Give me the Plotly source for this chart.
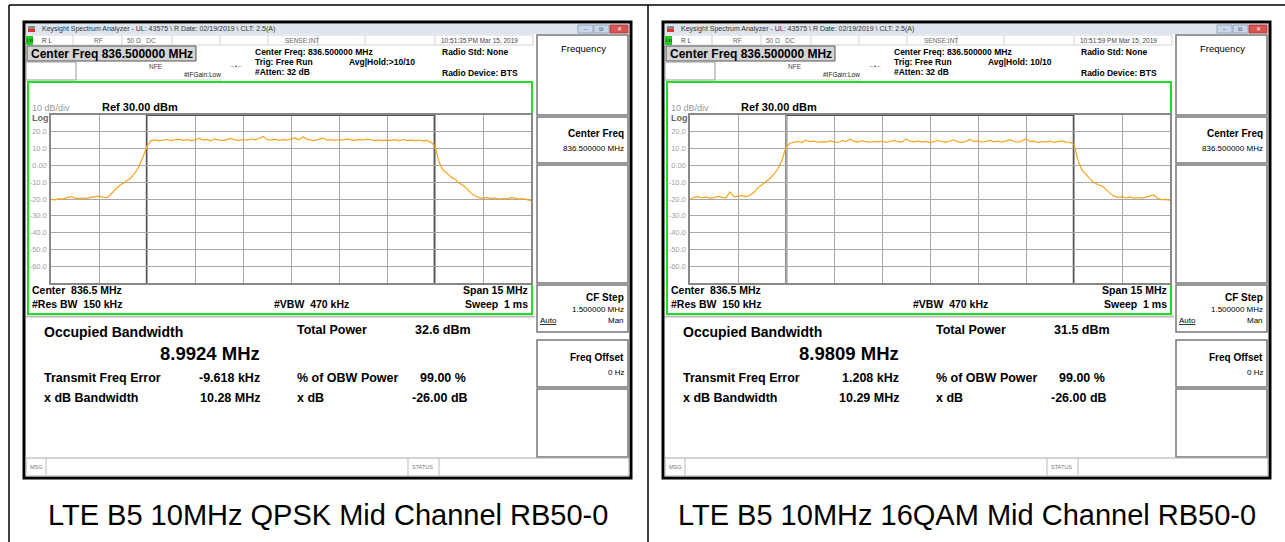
import plotly.graph_objects as go

W, H = 1285, 542

# ---------------- data ----------------
freq_mhz = [round(829.0 + 0.125 * i, 3) for i in range(121)]

qpsk_dbm = [
    -20.2, -20.5, -19.8, -20.1, -19.2, -18.6, -19.5, -19.8, -19.4, -19.6, -19.0, -18.8, -18.3,
    -18.9, -19.2, -17.0, -14.5, -12.3, -10.8, -9.2, -7.4, -4.5, -0.5, 5.0, 11.5, 14.8,
    15.2, 14.6, 15.0, 15.4, 14.8, 15.1, 15.6, 14.9, 15.3, 14.7,
    15.0, 16.2, 15.1, 15.5, 14.6, 15.8, 15.0, 14.8, 15.3, 16.1,
    15.2, 14.9, 15.4, 15.0, 15.7, 15.2, 16.0, 17.2, 15.4, 15.1,
    15.6, 14.9, 15.3, 15.0, 15.8, 16.4, 15.2, 17.0, 15.5, 15.1,
    14.8, 15.6, 16.2, 15.0, 15.3, 14.9, 15.4, 15.1, 15.8, 15.2,
    14.9, 15.5, 15.0, 15.7, 15.1, 14.8, 15.2, 14.7, 15.0, 14.9,
    15.3, 14.6, 15.4, 14.8, 15.0, 14.7, 15.1, 14.6, 14.9, 13.8,
    11.5, 2.0, -2.8, -4.5, -7.0, -8.2, -10.5, -11.8, -14.0, -16.5, -18.2, -19.2,
    -19.6, -19.0, -19.8, -19.4, -20.0, -19.7, -19.9, -19.2, -19.5, -20.1, -19.8, -20.3, -21.0,
]

qam16_dbm = [
    -20.3, -19.0, -18.6, -19.4, -18.8, -19.6, -19.2, -18.5, -19.0, -19.3, -15.8, -18.6, -18.4,
    -18.0, -18.6, -17.8, -16.0, -13.2, -11.5, -9.6, -7.8, -5.2, -2.0, 3.0, 11.0, 13.2,
    13.8, 14.3, 13.6, 15.0, 14.1, 14.5, 13.7, 14.2, 13.9, 14.6,
    14.0, 13.5, 14.8, 14.2, 15.6, 14.4, 13.9, 14.7, 14.1, 13.8,
    14.3, 14.0, 14.5, 13.7, 14.2, 14.9, 14.1, 13.8, 15.8, 14.4,
    14.0, 14.6, 13.9, 14.3, 13.6, 14.1, 14.8, 14.2, 13.9, 14.5,
    15.2, 14.0, 13.7, 14.4, 15.5, 14.1, 14.6, 13.8, 14.3, 14.9,
    14.0, 14.5, 13.9, 14.7, 15.3, 14.2, 13.8, 14.6, 15.8, 14.1,
    14.4, 13.6, 14.2, 13.9, 14.5, 13.7, 14.1, 14.6, 13.9, 13.8,
    12.5, 3.0, -2.8, -5.5, -8.0, -10.2, -11.5, -12.2, -14.6, -16.5, -18.3, -19.0,
    -18.6, -19.4, -18.8, -19.6, -19.1, -19.5, -18.9, -18.2, -17.6, -19.8, -20.4, -20.2, -20.8,
]
assert len(qpsk_dbm) == len(freq_mhz) == len(qam16_dbm)

traces_dbm = [qpsk_dbm, qam16_dbm]
captions = ["LTE B5 10MHz QPSK Mid Channel RB50-0", "LTE B5 10MHz 16QAM Mid Channel RB50-0"]
timestamps = ["10:51:35 PM Mar 15, 2019", "10:51:59 PM Mar 15, 2019"]
avg_hold = ["Avg|Hold:>10/10", "Avg|Hold: 10/10"]
obw_mhz = [8.9924, 8.9809]
total_power_dbm = [32.6, 31.5]
freq_error_khz = [-9.618, 1.208]
xdb_bw_mhz = [10.28, 10.29]
center_mhz = 836.5
span_mhz = 15.0
ref_dbm = 30.0
y_ticks = [20, 10, 0, -10, -20, -30, -40, -50, -60]
y_ticktext = ["20.0", "10.0", "0.00", "-10.0", "-20.0", "-30.0", "-40.0", "-50.0", "-60.0"]

# ---------------- helpers ----------------
FONT = "Arial, Liberation Sans, sans-serif"
shapes, annos = [], []


def X(px):
    return px / W


def Y(py):
    return 1 - py / H


def rect(x0, y0, x1, y1, fill="rgba(0,0,0,0)", color="rgba(0,0,0,0)", width=0):
    shapes.append(dict(type="rect", xref="paper", yref="paper", x0=X(x0), x1=X(x1),
                       y0=Y(y1), y1=Y(y0), fillcolor=fill,
                       line=dict(color=color, width=width), layer="below"))


def seg(x0, y0, x1, y1, color="#000", width=1, layer="below"):
    shapes.append(dict(type="line", xref="paper", yref="paper", x0=X(x0), x1=X(x1),
                       y0=Y(y0), y1=Y(y1), line=dict(color=color, width=width), layer=layer))


def txt(x, y, s, size=9, color="#000", bold=False, anchor="left"):
    if bold:
        s = "<b>" + s + "</b>"
    annos.append(dict(xref="paper", yref="paper", x=X(x), y=Y(y), text=s, showarrow=False,
                      xanchor=anchor, yanchor="middle", font=dict(family=FONT, size=size, color=color)))


fig = go.Figure()

# outer table lines
seg(9, 5, 1285, 5, "#000", 1.5)
seg(9, 5, 9, 542, "#000", 1.5)
seg(648, 5, 648, 542, "#000", 1.5)

for k in range(2):
    d = 639 * k
    # screenshot frame
    rect(24 + d, 22, 631 + d, 478, fill="#ffffff", color="#000", width=3)
    # title bar
    rect(26 + d, 24, 629 + d, 34, fill="#dde4ee")
    rect(28 + d, 26, 35 + d, 29, fill="#888")
    rect(28 + d, 29, 35 + d, 32, fill="#d33")
    txt(40 + d, 29.5, "Keysight Spectrum Analyzer - UL: 43575 \\ R Date: 02/19/2019 \\ CLT: 2.5(A)", 7, "#333")
    rect(578 + d, 25, 593 + d, 33, fill="#c8d7ea", color="#8a9bb0", width=0.8)
    rect(594 + d, 25, 609 + d, 33, fill="#c8d7ea", color="#8a9bb0", width=0.8)
    rect(610 + d, 25, 628 + d, 33, fill="#d9534f", color="#a33", width=0.8)
    txt(585.5 + d, 29, "–", 6, "#456", anchor="center")
    txt(601.5 + d, 29, "⧉", 6, "#456", anchor="center")
    txt(619 + d, 29, "✕", 6, "#fff", anchor="center")
    # status row
    rect(26 + d, 35, 533 + d, 45, fill="#ffffff", color="#c8c8c8", width=0.8)
    rect(26 + d, 36, 33 + d, 45, fill="#22cc22")
    txt(29.5 + d, 40.5, "LXI", 4, "#000", anchor="center")
    for sx in [73, 122, 172, 220, 268, 318, 365, 435]:
        seg(sx + d, 35, sx + d, 45, "#c8c8c8", 0.8)
    txt(40 + d, 40.5, "R L", 6.5, "#444")
    txt(92 + d, 40.5, "RF", 6.5, "#666")
    txt(125 + d, 40.5, "50 Ω   DC", 6.5, "#666")
    txt(283 + d, 40.5, "SENSE:INT", 6.5, "#666")
    txt(439 + d, 40.5, timestamps[k], 6.5, "#444")
    # center freq box
    rect(27 + d, 46, 196 + d, 61, fill="#d4d4d4", color="#555", width=1)
    txt(29 + d, 54, "Center Freq %.6f MHz" % center_mhz, 12, "#000", bold=True)
    rect(26 + d, 62, 76 + d, 80, fill="#fff", color="#999", width=1)
    seg(76 + d, 80, 222 + d, 80, "#cfcfcf", 1)
    txt(147 + d, 66, "NFE", 6.5, "#444")
    txt(182 + d, 74.5, "#IFGain:Low", 6.5, "#222")
    txt(236 + d, 66, "→•←", 6, "#333", anchor="center")
    txt(253 + d, 52, "Center Freq: %.6f MHz" % center_mhz, 8.5, "#000", bold=True)
    txt(253 + d, 62, "Trig: Free Run", 8.5, "#000", bold=True)
    txt(253 + d, 72, "#Atten: 32 dB", 8.5, "#000", bold=True)
    txt(347 + d, 62, avg_hold[k], 8.5, "#000", bold=True)
    txt(440 + d, 52, "Radio Std: None", 8.5, "#000", bold=True)
    txt(440 + d, 73, "Radio Device: BTS", 8.5, "#000", bold=True)
    # softkey panel
    rect(537 + d, 35, 628 + d, 115, fill="#fff", color="#777", width=1.5)
    txt(583 + d, 48, "Frequency", 9.5, "#000", anchor="center")
    rect(537 + d, 117, 628 + d, 163, fill="#fff", color="#777", width=1.5)
    txt(626 + d, 133, "Center Freq", 10, "#000", bold=True, anchor="right")
    txt(626 + d, 148, "%.6f MHz" % center_mhz, 8, "#000", anchor="right")
    rect(537 + d, 165, 628 + d, 283, fill="#fff", color="#777", width=1.5)
    rect(537 + d, 285, 628 + d, 332, fill="#fff", color="#777", width=1.5)
    txt(626 + d, 297, "CF Step", 10, "#000", bold=True, anchor="right")
    txt(626 + d, 309, "%.6f MHz" % (span_mhz / 10), 8, "#000", anchor="right")
    txt(538 + d, 320, "<u>Auto</u>", 8, "#000")
    txt(626 + d, 320, "Man", 8, "#000", anchor="right")
    rect(537 + d, 340, 628 + d, 387, fill="#fff", color="#777", width=1.5)
    txt(626 + d, 357, "Freq Offset", 10, "#000", bold=True, anchor="right")
    txt(626 + d, 372, "0 Hz", 8, "#000", anchor="right")
    rect(537 + d, 389, 628 + d, 457, fill="#fff", color="#777", width=1.5)
    # green graticule box
    rect(28 + d, 82, 532 + d, 314, fill="#fff", color="#22dd22", width=2)
    txt(30 + d, 108, "10 dB/div", 9, "#999")
    txt(100 + d, 107, "Ref %.2f dBm" % ref_dbm, 11, "#000", bold=True)
    txt(30 + d, 118.5, "Log", 9, "#666", bold=True)
    txt(30 + d, 290, "Center  %.1f MHz" % center_mhz, 10.5, "#000", bold=True)
    txt(530 + d, 290, "Span %g MHz" % span_mhz, 10.5, "#000", bold=True, anchor="right")
    txt(30 + d, 304, "#Res BW  150 kHz", 10.5, "#000", bold=True)
    txt(272 + d, 304, "#VBW  470 kHz", 10.5, "#000", bold=True)
    txt(530 + d, 304, "Sweep  1 ms", 10.5, "#000", bold=True, anchor="right")
    # measurement area
    seg(26 + d, 316.5, 535 + d, 316.5, "#bdbdbd", 2)
    txt(42 + d, 332, "Occupied Bandwidth", 14, "#000", bold=True)
    txt(158 + d, 353, "%.4f MHz" % obw_mhz[k], 18.5, "#000", bold=True)
    txt(295 + d, 330, "Total Power", 12.5, "#000", bold=True)
    txt(413 + d, 330, "%.1f dBm" % total_power_dbm[k], 12.5, "#000", bold=True)
    txt(42 + d, 378, "Transmit Freq Error", 12.5, "#000", bold=True)
    txt(262 + d, 378, "%.3f kHz" % freq_error_khz[k], 12.5, "#000", bold=True, anchor="right")
    txt(295 + d, 378, "% of OBW Power", 12.5, "#000", bold=True)
    txt(418 + d, 378, "99.00 %", 12.5, "#000", bold=True)
    txt(42 + d, 398, "x dB Bandwidth", 12.5, "#000", bold=True)
    txt(262 + d, 398, "%.2f MHz" % xdb_bw_mhz[k], 12.5, "#000", bold=True, anchor="right")
    txt(295 + d, 398, "x dB", 12.5, "#000", bold=True)
    txt(410 + d, 398, "-26.00 dB", 12.5, "#000", bold=True)
    # msg bar
    rect(26 + d, 458, 629 + d, 476, fill="#fff", color="#aaa", width=1)
    seg(46 + d, 458, 46 + d, 476, "#bbb", 1)
    seg(408 + d, 458, 408 + d, 476, "#bbb", 1)
    seg(439 + d, 458, 439 + d, 476, "#bbb", 1)
    txt(28 + d, 467, "MSG", 5.5, "#777")
    txt(410 + d, 467, "STATUS", 5.5, "#777")
    # caption
    txt(328 + d, 515, captions[k], 29, "#000", anchor="center")

    # ---------------- plot ----------------
    xa = "x" if k == 0 else "x2"
    ya = "y" if k == 0 else "y2"
    fig.add_trace(go.Scatter(x=freq_mhz, y=traces_dbm[k], mode="lines",
                             line=dict(color="#F5A51F", width=1.2), xaxis=xa, yaxis=ya,
                             showlegend=False, hoverinfo="skip"))
    # OBW markers (dark vertical lines + top bracket)
    fc = center_mhz + freq_error_khz[k] / 1000.0
    lo, hi = fc - obw_mhz[k] / 2, fc + obw_mhz[k] / 2
    for fx in (lo, hi):
        shapes.append(dict(type="line", xref=xa, yref=ya, x0=fx, x1=fx, y0=-70, y1=30,
                           line=dict(color="#555", width=2), layer="below"))
    shapes.append(dict(type="line", xref=xa, yref=ya, x0=lo, x1=hi, y0=30, y1=30,
                       line=dict(color="#555", width=2), layer="above"))

    dom_x = [X(51 + d), X(531 + d)]
    dom_y = [Y(283), Y(115)]
    xkey = "xaxis" if k == 0 else "xaxis2"
    ykey = "yaxis" if k == 0 else "yaxis2"
    fig.update_layout(**{
        xkey: dict(domain=dom_x, range=[center_mhz - span_mhz / 2, center_mhz + span_mhz / 2],
                   anchor=ya, tickvals=[center_mhz - span_mhz / 2 + 1.5 * i for i in range(1, 10)],
                   showticklabels=False, ticks="", showgrid=True, gridcolor="#a8a8a8", gridwidth=1,
                   showline=True, mirror=True, linecolor="#888", linewidth=1.5, zeroline=False,
                   fixedrange=True),
        ykey: dict(domain=dom_y, range=[ref_dbm - 100, ref_dbm], anchor=xa,
                   tickvals=y_ticks, ticktext=y_ticktext, ticks="", showgrid=True,
                   gridcolor="#a8a8a8", gridwidth=1, showline=True, mirror=True, linecolor="#888",
                   linewidth=1.5, zeroline=False, tickfont=dict(family=FONT, size=7.5, color="#a0a0a0"),
                   ticklabelstandoff=1, fixedrange=True),
    })

fig.update_layout(width=W, height=H, margin=dict(l=0, r=0, t=0, b=0, pad=0),
                  paper_bgcolor="#ffffff", plot_bgcolor="#ffffff",
                  shapes=shapes, annotations=annos, showlegend=False)

fig.write_html("out.html", config={"displayModeBar": False},
               post_script="document.body.style.margin='0';document.body.style.overflow='hidden';")
